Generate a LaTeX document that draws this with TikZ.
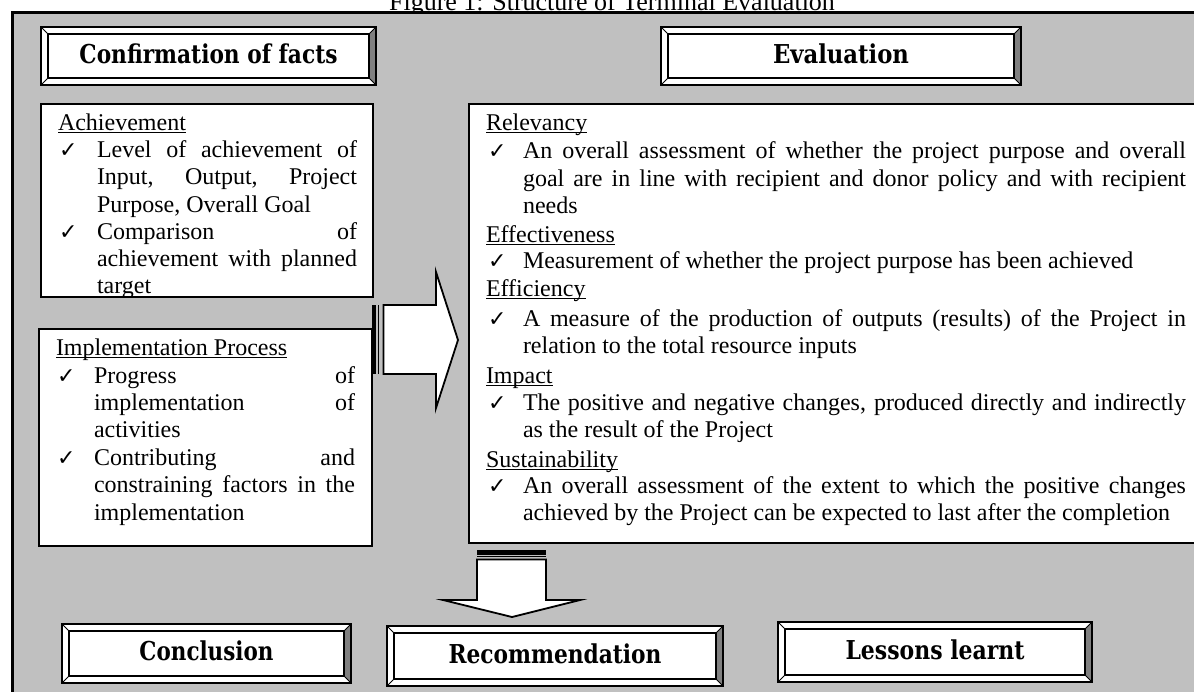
\documentclass[tikz,border=0pt]{standalone}
\usepackage{fontspec}
\usepackage{graphicx}
\setmainfont{Liberation Serif}
\newfontfamily\hdrfont{DejaVu Serif}
\newfontfamily\symfont{DejaVu Sans}
\definecolor{panelgray}{RGB}{192,192,192}
\definecolor{bevelgray}{RGB}{128,128,128}
\newcommand\wul[1]{\setbox0=\hbox{#1}\rlap{\rule[-1.6pt]{\wd0}{0.55pt}}\box0}
\tikzset{
  txt/.style={anchor=base west, inner sep=0pt, outer sep=0pt},
  chk/.style={anchor=base west, inner sep=0pt, outer sep=0pt, font=\symfont\fontsize{11}{11}\selectfont},
  plainbox/.style={draw, fill=white, line width=1.1pt, inner sep=0pt},
  blockarrow/.style={draw, fill=white, line width=0.9pt, line join=miter},
  hdr/.style={anchor=base, inner sep=0pt, font=\hdrfont\bfseries\fontsize{13}{14}\selectfont},
}
\newcommand\plainline[4]{\node[txt] (#1) at (#2,#3) {#4};}
\newcommand\justline[5]{\node[txt] (#1) at (#2,#3) {\makebox[#4pt][s]{#5}};}
\newcommand\checkmk[3]{\node[chk] (#1) at (#2,#3) {✓};}
\newcommand\bevbox[7]{%
  \fill[white] (#2,#3) rectangle (#4,#5);
  \fill[bevelgray] (#4,#3) -- (#4,#5) -- ({#4-7},{#5-7}) -- ({#4-7},{#3+7}) -- cycle;
  \draw[line width=0.75pt] ({#2+7},{#3+7}) rectangle ({#4-7},{#5-7});
  \draw[line width=0.45pt] (#2,#3) -- ({#2+7},{#3+7}) (#4,#3) -- ({#4-7},{#3+7})
     (#2,#5) -- ({#2+7},{#5-7}) (#4,#5) -- ({#4-7},{#5-7});
  \node[draw, line width=1.4pt, inner sep=0pt, minimum width={(#4-#2)*0.5pt},
     minimum height={(#5-#3)*0.5pt}] (#1) at ({(#2+#4)/2},{(#3+#5)/2}) {};
  \node[hdr] (#1-t) at ({(#2+#4)/2},{(#3+#5)/2+7}) {\resizebox{#6pt}{\height}{#7}};
}
\begin{document}
\begin{tikzpicture}[x=0.5pt,y=-0.5pt,font=\fontsize{12}{13.5}\selectfont]
\useasboundingbox (0,0) rectangle (1194,691);
\fill[white] (0,0) rectangle (1194,691);
% title
\node[anchor=base, inner sep=0pt, font=\fontsize{13}{14}\selectfont] (title) at (612,10) {Figure 1: Structure of Terminal Evaluation};
% grey panel
\fill[panelgray] (12.5,12.5) rectangle (1230,720);
\draw[line width=1.2pt] (12.5,720) -- (12.5,12.5) -- (1230,12.5);

% heading boxes
\bevbox{conf}{41}{27}{376}{85}{129}{Confirmation of facts}
\bevbox{evalh}{661}{27}{1021}{85}{68}{Evaluation}
\bevbox{concl}{62}{624}{351}{683}{67}{Conclusion}
\bevbox{recom}{387}{626}{723}{686}{106.5}{Recommendation}
\bevbox{lesson}{778}{622}{1092}{682}{89.5}{Lessons learnt}

% Achievement
\node[plainbox, minimum width=166pt, minimum height=96.5pt] (ach) at (207,200.5) {};
\begin{scope}
\clip (42,105) rectangle (372,296);
\plainline{achH}{58}{130}{\wul{Achievement}}
\checkmk{achC1}{59}{157}
\justline{ach1}{97}{157}{130}{Level of achievement of}
\justline{ach2}{97}{184}{130}{Input, Output, Project}
\plainline{ach3}{97}{212}{Purpose, Overall Goal}
\checkmk{achC2}{59}{239}
\justline{ach4}{97}{239}{130}{Comparison of}
\justline{ach5}{97}{266}{130}{achievement with planned}
\plainline{ach6}{97}{293}{target}
\end{scope}

% Implementation Process
\node[plainbox, minimum width=166.5pt, minimum height=108.5pt] (impl) at (205.5,437.5) {};
\plainline{implH}{56}{355}{\wul{Implementation Process}}
\checkmk{implC1}{57}{383}
\justline{impl1}{94}{383}{130.5}{Progress of}
\justline{impl2}{94}{410}{130.5}{implementation of}
\plainline{impl3}{94}{437}{activities}
\checkmk{implC2}{57}{465}
\justline{impl4}{94}{465}{130.5}{Contributing and}
\justline{impl5}{94}{492}{130.5}{constraining factors in the}
\plainline{impl6}{94}{520}{implementation}

% right block arrow
\fill[black] (372,305) rectangle (376,374);
\draw[line width=0.5pt] (378.5,305) -- (378.5,374);
\draw[blockarrow] (383.5,305) -- (436,305) -- (436,272) -- (458,340) -- (436,408) -- (436,374) -- (383.5,374) -- cycle;

% Evaluation box
\node[plainbox, minimum width=380.5pt, minimum height=219.5pt] (evalbox) at (849.5,323.5) {};
\plainline{relH}{486}{130}{\wul{Relevancy}}
\checkmk{relC}{488}{158}
\justline{rel1}{523}{158}{331.5}{An overall assessment of whether the project purpose and overall}
\justline{rel2}{523}{186}{331.5}{goal are in line with recipient and donor policy and with recipient}
\plainline{rel3}{523}{213}{needs}
\plainline{effH}{486}{242}{\wul{Effectiveness}}
\checkmk{effC}{488}{268}
\plainline{eff1}{523}{268}{Measurement of whether the project purpose has been achieved}
\plainline{efcH}{486}{296}{\wul{Efficiency}}
\checkmk{efcC}{488}{326}
\justline{efc1}{523}{326}{331.5}{A measure of the production of outputs (results) of the Project in}
\plainline{efc2}{523}{353}{relation to the total resource inputs}
\plainline{impH}{486}{383}{\wul{Impact}}
\checkmk{impC}{488}{410}
\justline{imp1}{523}{410}{331.5}{The positive and negative changes, produced directly and indirectly}
\plainline{imp2}{523}{437}{as the result of the Project}
\plainline{susH}{486}{467}{\wul{Sustainability}}
\checkmk{susC}{488}{493}
\justline{sus1}{523}{493}{331.5}{An overall assessment of the extent to which the positive changes}
\plainline{sus2}{523}{520}{achieved by the Project can be expected to last after the completion}

% down block arrow
\fill[black] (477,550) rectangle (546,554.5);
\draw[line width=0.5pt] (477,556.5) -- (546,556.5);
\draw[blockarrow] (477,559.5) -- (546,559.5) -- (546,600) -- (580,600) -- (512,617) -- (443,600) -- (477,600) -- cycle;
\end{tikzpicture}
\end{document}
